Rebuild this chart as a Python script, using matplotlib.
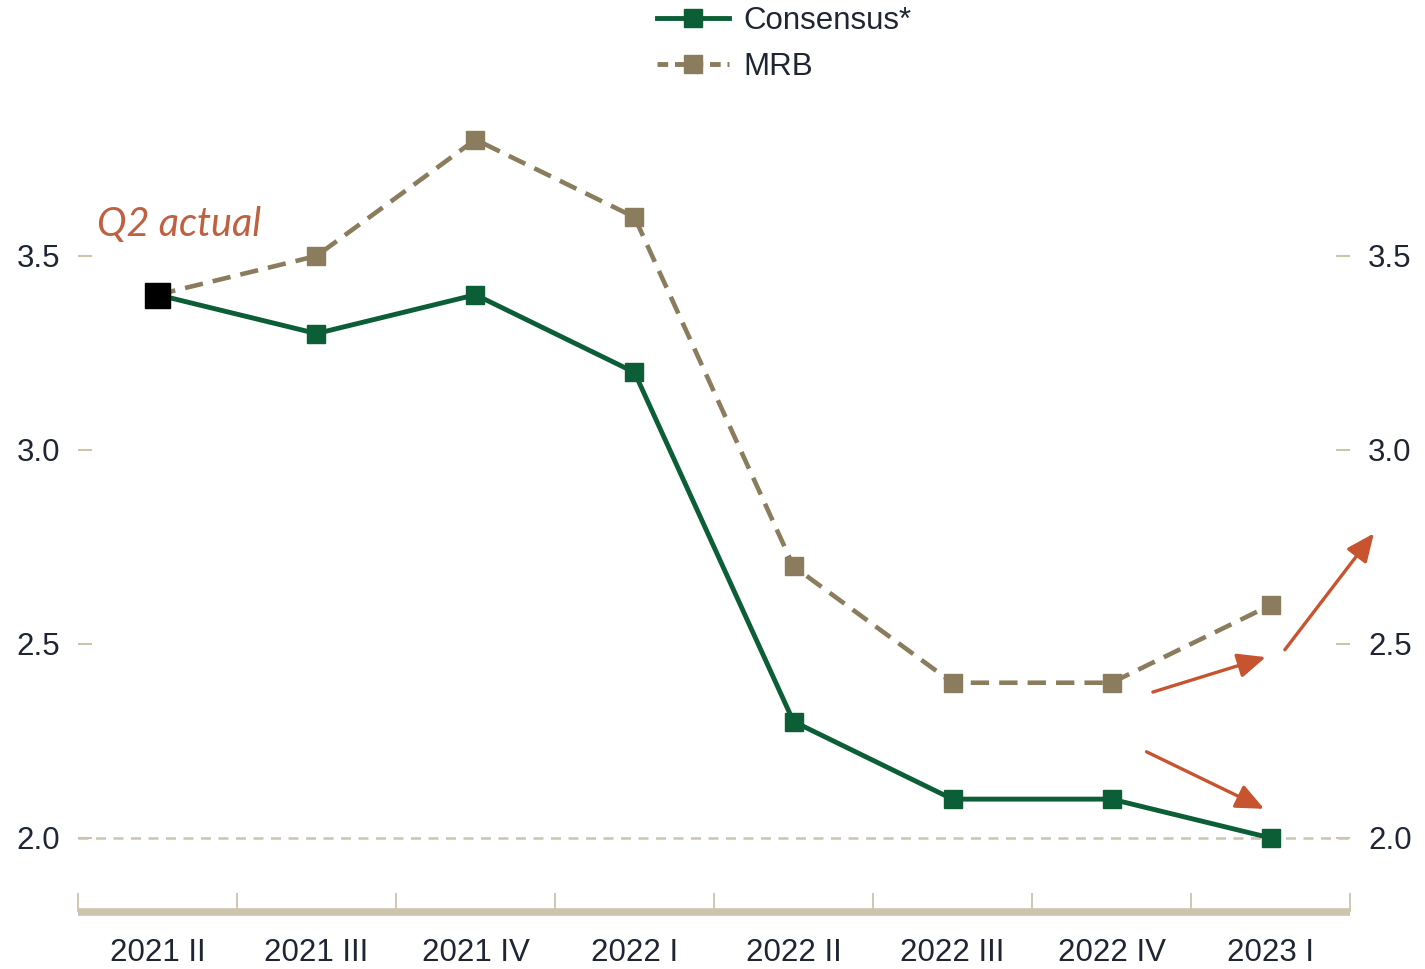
import numpy as np
from matplotlib import pyplot as plt
from matplotlib.lines import Line2D

quarters = ["2021 II", "2021 III", "2021 IV", "2022 I",
            "2022 II", "2022 III", "2022 IV", "2023 I"]
consensus = [3.4, 3.3, 3.4, 3.2, 2.3, 2.1, 2.1, 2.0]
mrb = [3.4, 3.5, 3.8, 3.6, 2.7, 2.4, 2.4, 2.6]
yticks = [2.0, 2.5, 3.0, 3.5]
target = 2.0

GREEN = "#0b5e36"
TAN = "#8a7c5c"
BEIGE = "#cdc4ad"
ARROW = "#c7532f"
TEXT = "#1f2533"

plt.rcParams["font.family"] = ["Liberation Sans", "DejaVu Sans"]


def _style_axes(ax):
    ax.set_xlim(-0.5, len(quarters) - 0.5)
    ax.set_ylim(1.809, 3.902)
    for side in ("left", "right", "top"):
        ax.spines[side].set_visible(False)
    ax.spines["bottom"].set_color(BEIGE)
    ax.spines["bottom"].set_linewidth(5.5)
    ax.spines["bottom"].set_capstyle("butt")

    ax.set_xticks(range(len(quarters)))
    ax.set_xticklabels(quarters)
    ax.set_xticks(np.arange(-0.5, len(quarters)), minor=True)
    ax.tick_params(axis="x", which="major", length=0, pad=19,
                   labelsize=22.5, labelcolor=TEXT)
    ax.tick_params(axis="x", which="minor", direction="in", length=14,
                   width=1.3, color=BEIGE)

    ax.set_yticks(yticks)
    ax.set_yticklabels([f"{v:.1f}" for v in yticks])
    ax.tick_params(axis="y", direction="in", length=10, width=1.5,
                   color=BEIGE, labelsize=22.5, labelcolor=TEXT,
                   left=True, right=True, labelleft=True, labelright=True,
                   pad=13)


def _draw_series(ax):
    x = np.arange(len(quarters))
    ax.axhline(target, color=BEIGE, lw=1.8, ls=(0, (4, 3)), zorder=1)
    ax.plot(x, mrb, color=TAN, lw=3.3, ls=(0, (4, 2.2)), marker="s",
            ms=13, label="MRB", zorder=2)
    ax.plot(x, consensus, color=GREEN, lw=3.5, marker="s", ms=13,
            label="Consensus*", zorder=3)
    ax.plot(x[0], consensus[0], "s", color="black", ms=18, zorder=4)


def _draw_notes(ax):
    ax.text(-0.38, 3.58, "Q2 actual", color="#bf6140", fontsize=28.5,
            style="italic", family=["Lato", "DejaVu Sans"],
            ha="left", va="center")
    arrows = [((6.26, 2.376), (6.97, 2.466)),
              ((7.09, 2.485), (7.65, 2.785)),
              ((6.22, 2.222), (6.96, 2.075))]
    for start, end in arrows:
        ax.annotate("", xy=end, xytext=start, annotation_clip=False,
                    arrowprops=dict(arrowstyle="-|>,head_length=1.7,head_width=0.75",
                                    color=ARROW, lw=2.4, shrinkA=0, shrinkB=0))


def main():
    fig = plt.figure(figsize=(14.25, 9.69), dpi=100)
    ax = fig.add_axes([0.0547, 0.0588, 0.8927, 0.838])
    _style_axes(ax)
    _draw_series(ax)
    _draw_notes(ax)

    handles = [
        Line2D([], [], color=GREEN, lw=3.5, marker="s", ms=13),
        Line2D([], [], color=TAN, lw=3.5, ls=(0, (2.2, 1.4)), marker="s", ms=13),
    ]
    fig.legend(handles, ["Consensus*", "MRB"], loc="upper left",
               bbox_to_anchor=(657 / 1425, 1 - 6 / 969), frameon=False,
               fontsize=22.5, labelcolor=TEXT, handlelength=2.3,
               handletextpad=0.45, borderpad=0, borderaxespad=0,
               labelspacing=0.5)
    fig.savefig("out.png", dpi=100)


main()
